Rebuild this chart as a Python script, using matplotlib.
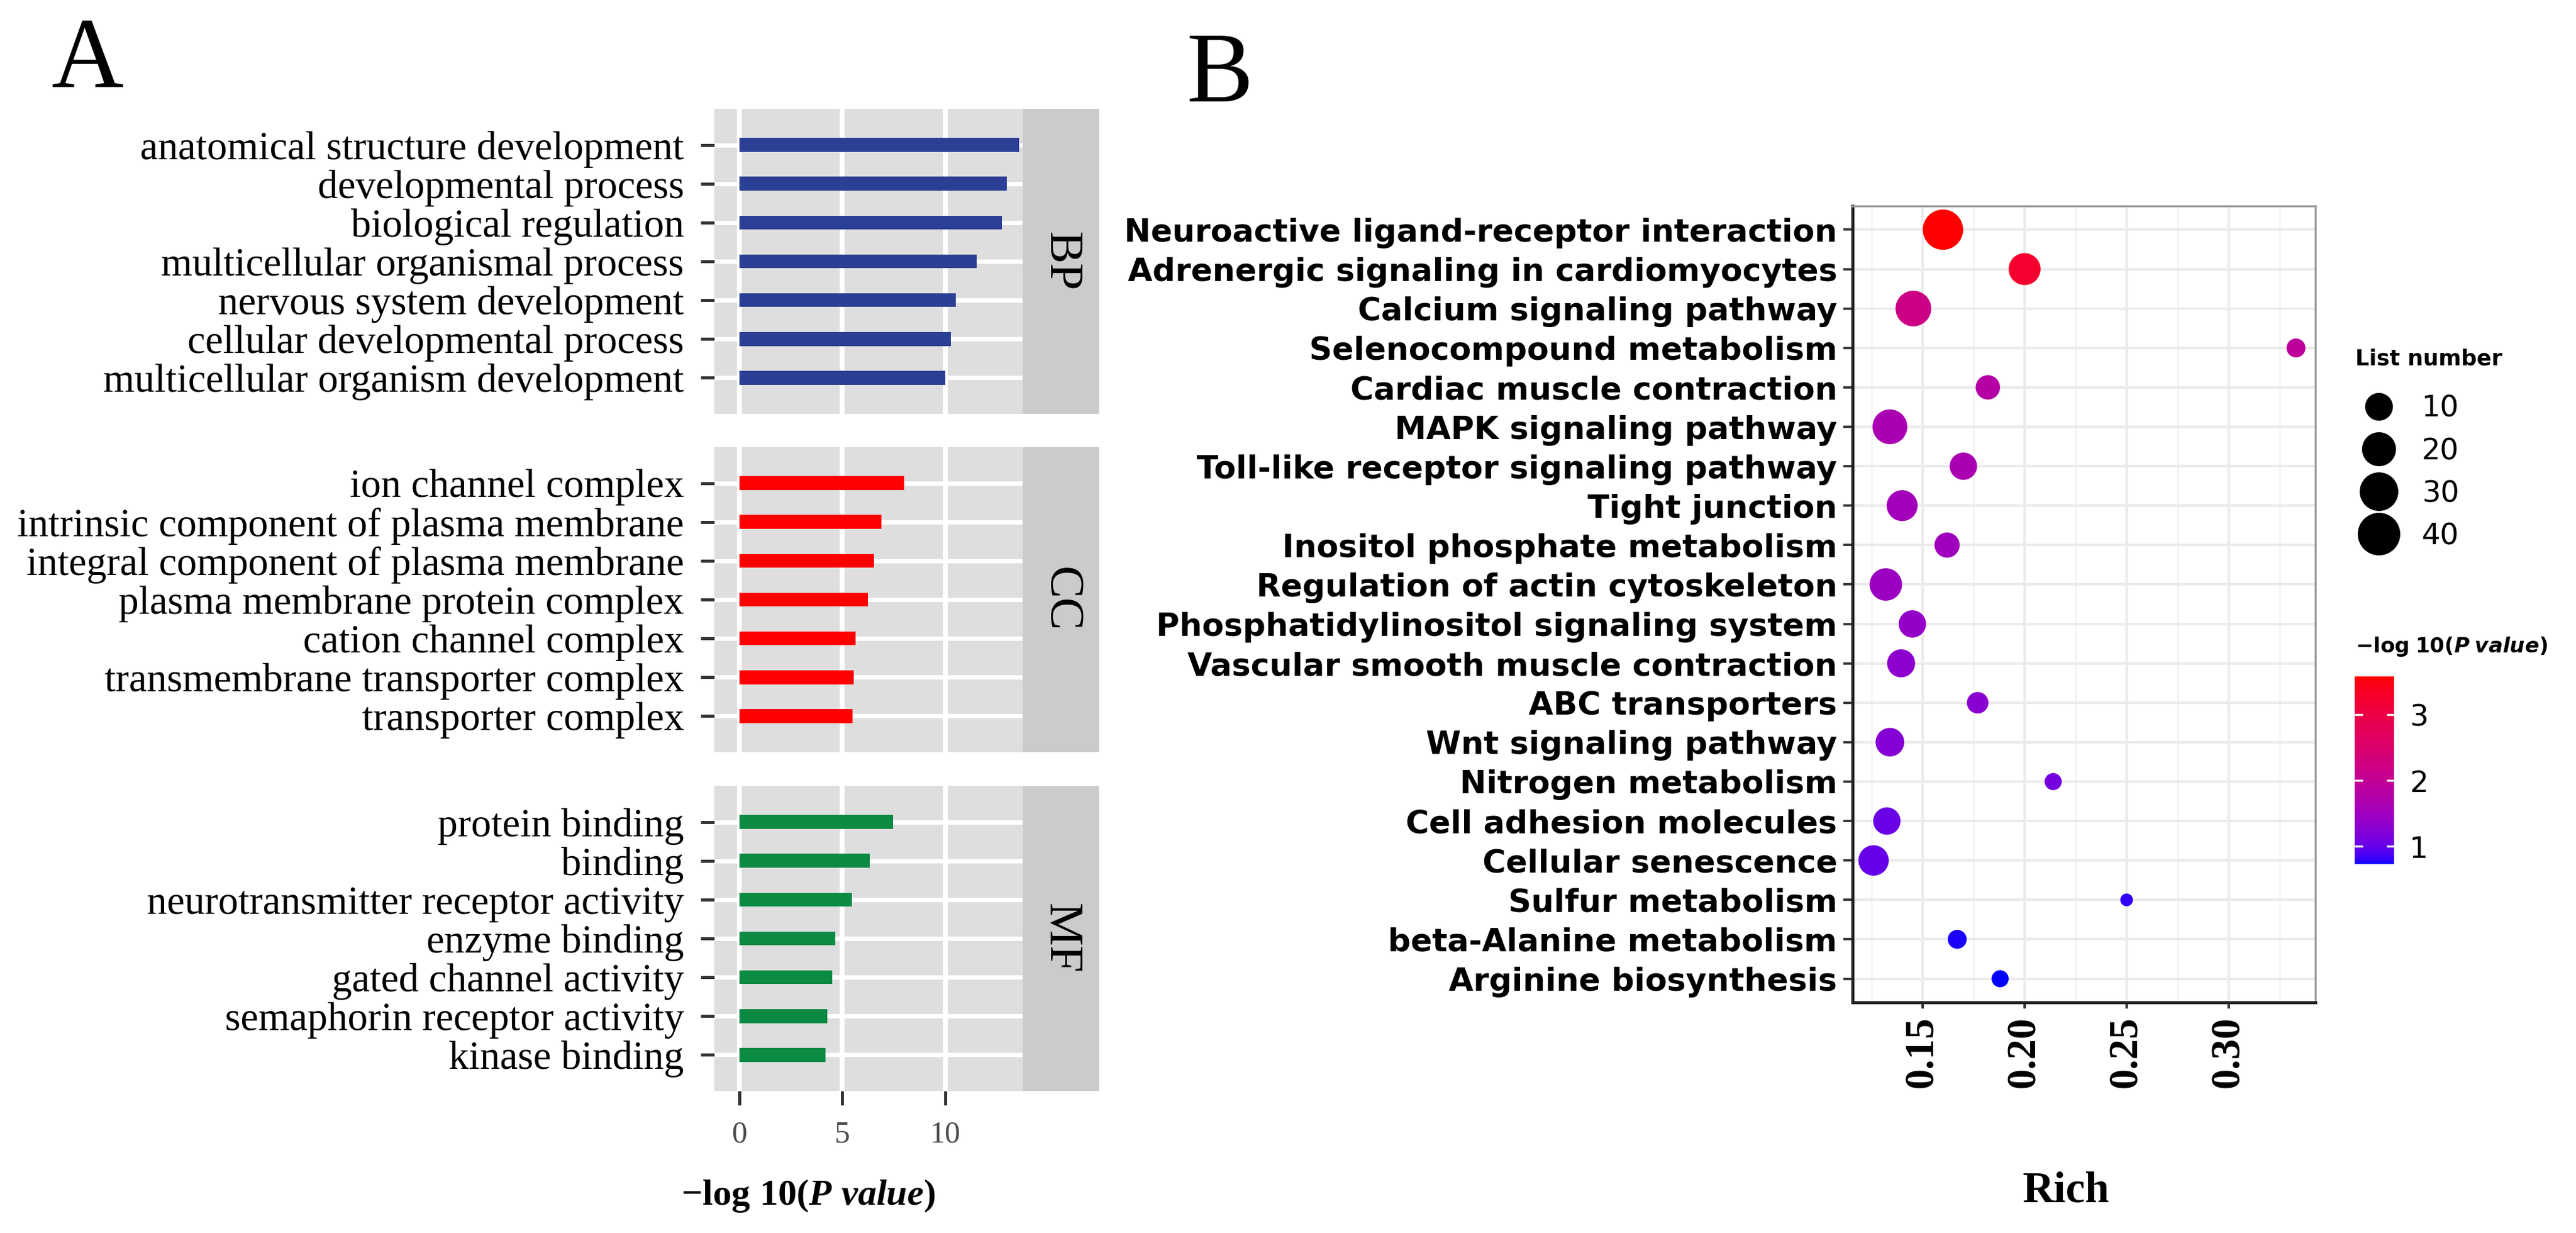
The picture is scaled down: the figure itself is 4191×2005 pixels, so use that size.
import numpy as np
import matplotlib
matplotlib.use("Agg")
import matplotlib.pyplot as plt
from matplotlib.colors import ListedColormap, Normalize
from matplotlib.cm import ScalarMappable
from matplotlib.lines import Line2D

plt.rcParams['mathtext.fontset'] = 'custom'
plt.rcParams['mathtext.rm'] = 'Liberation Serif:bold'
plt.rcParams['mathtext.it'] = 'Liberation Serif:bold:italic'
plt.rcParams['mathtext.bf'] = 'DejaVu Sans:bold'
plt.rcParams['mathtext.sf'] = 'DejaVu Sans:bold:italic'

# ---- panel A: GO enrichment, -log10(P value)
bp_terms = ["anatomical structure development", "developmental process",
            "biological regulation", "multicellular organismal process",
            "nervous system development", "cellular developmental process",
            "multicellular organism development"]
bp_vals = [13.6, 13.0, 12.76, 11.53, 10.52, 10.28, 10.0]

cc_terms = ["ion channel complex", "intrinsic component of plasma membrane",
            "integral component of plasma membrane", "plasma membrane protein complex",
            "cation channel complex", "transmembrane transporter complex",
            "transporter complex"]
cc_vals = [8.0, 6.9, 6.53, 6.25, 5.66, 5.55, 5.51]

mf_terms = ["protein binding", "binding", "neurotransmitter receptor activity",
            "enzyme binding", "gated channel activity", "semaphorin receptor activity",
            "kinase binding"]
mf_vals = [7.46, 6.32, 5.48, 4.67, 4.51, 4.28, 4.18]

go_groups = ["BP", "CC", "MF"]
go_colors = ["#2B3F94", "#FF0000", "#0A8A43"]

# ---- panel B: KEGG enrichment
kegg_terms = ["Neuroactive ligand-receptor interaction", "Adrenergic signaling in cardiomyocytes",
              "Calcium signaling pathway", "Selenocompound metabolism",
              "Cardiac muscle contraction", "MAPK signaling pathway",
              "Toll-like receptor signaling pathway", "Tight junction",
              "Inositol phosphate metabolism", "Regulation of actin cytoskeleton",
              "Phosphatidylinositol signaling system", "Vascular smooth muscle contraction",
              "ABC transporters", "Wnt signaling pathway", "Nitrogen metabolism",
              "Cell adhesion molecules", "Cellular senescence", "Sulfur metabolism",
              "beta-Alanine metabolism", "Arginine biosynthesis"]
kegg_rich = [0.160, 0.200, 0.1455, 0.333, 0.182, 0.134, 0.170, 0.140, 0.162, 0.132,
             0.145, 0.1395, 0.177, 0.134, 0.214, 0.1325, 0.126, 0.25, 0.167, 0.188]
kegg_count = [41, 21, 29, 4, 9, 27, 13, 19, 10, 22, 13, 14, 6, 15, 3, 13, 18, 2, 4, 3]
kegg_logp = [3.58, 3.25, 2.2, 1.95, 1.8, 1.65, 1.65, 1.55, 1.5, 1.45, 1.38, 1.32, 1.28,
             1.24, 1.1, 1.02, 1.0, 0.8, 0.76, 0.73]
size_breaks = [10, 20, 30, 40]
color_ticks = [1, 2, 3]

W, H, DPI = 4191, 2005, 300


def fx(px):
    return px / W


def fy(py):
    return 1 - py / H


def lab_ramp(n=256):
    # blue -> red interpolated in CIELAB, like ggplot's gradient
    lab_blue = np.array([32.30, 79.19, -107.86])
    lab_red = np.array([53.24, 80.09, 67.20])
    t = np.linspace(0, 1, n)[:, None]
    L, a, b = (lab_blue * (1 - t) + lab_red * t).T
    fyy = (L + 16) / 116
    fxx = fyy + a / 500
    fzz = fyy - b / 200

    def finv(f):
        return np.where(f ** 3 > 0.008856, f ** 3, (f - 16 / 116) / 7.787)
    xyz = np.stack([0.95047 * finv(fxx), finv(fyy), 1.08883 * finv(fzz)], 1)
    M = np.array([[3.2406, -1.5372, -0.4986],
                  [-0.9689, 1.8758, 0.0415],
                  [0.0557, -0.2040, 1.0570]])
    rgb = np.clip(xyz @ M.T, 0, 1)
    rgb = np.where(rgb <= 0.0031308, 12.92 * rgb, 1.055 * rgb ** (1 / 2.4) - 0.055)
    return ListedColormap(np.clip(rgb, 0, 1))


def dot_diam_pt(n):
    d_px = 20.6 + 7.2 * np.sqrt(np.maximum(np.asarray(n, float) - 2, 0))
    return d_px * 72 / DPI


fig = plt.figure(figsize=(W / DPI, H / DPI), dpi=DPI)

# ---------------- panel A
panel_tops = [177, 727, 1278]
panel_h = 496
serif = "Liberation Serif"
for k, (terms, vals) in enumerate([(bp_terms, bp_vals), (cc_terms, cc_vals), (mf_terms, mf_vals)]):
    top = panel_tops[k]
    ax = fig.add_axes([fx(1162), fy(top + panel_h), fx(1664) - fx(1162), panel_h / H])
    ax.set_facecolor("#DEDEDE")
    y = np.arange(len(terms))
    for xv in [0, 5, 10]:
        ax.axvline(xv, color="white", lw=1.9, zorder=1)
    for yv in y:
        ax.axhline(yv, color="white", lw=1.7, zorder=1)
    ax.barh(y, vals, height=0.36, color=go_colors[k], zorder=2)
    ax.set_xlim(-1.22, 13.77)
    ax.set_ylim(len(terms) - 1 + 0.93, -0.93)
    ax.set_yticks(y)
    ax.set_yticklabels(terms, family=serif, fontsize=15.7, color="black")
    ax.tick_params(axis="y", length=5.3, width=1.2, color="#333333", pad=6.5)
    ax.set_xticks([0, 5, 10])
    if k == 2:
        ax.set_xticklabels(["0", "5", "10"], family=serif, fontsize=12, color="#4D4D4D")
        ax.tick_params(axis="x", length=5.5, width=1.2, color="#333333", pad=6)
    else:
        ax.tick_params(axis="x", length=0, labelbottom=False)
    for s in ax.spines.values():
        s.set_visible(False)

    sx = fig.add_axes([fx(1664), fy(top + panel_h), fx(1788) - fx(1664), panel_h / H])
    sx.set_facecolor("#CBCBCB")
    sx.set_xticks([])
    sx.set_yticks([])
    for s in sx.spines.values():
        s.set_visible(False)
    sx.text(0.5, 0.5, go_groups[k], rotation=-90, ha="center", va="center",
            family=serif, fontsize=19, transform=sx.transAxes)

fig.text(fx(1315), fy(1945), r"$\mathrm{-log\ 10(}\mathit{P\ value}\mathrm{)}$",
         fontsize=14.5, ha="center", va="center")
fig.text(fx(83), fy(142), "A", family=serif, fontsize=39, ha="left", va="baseline")
fig.text(fx(1930), fy(165), "B", family=serif, fontsize=39, ha="left", va="baseline")

# ---------------- panel B
cmap = lab_ramp()
norm = Normalize(vmin=min(kegg_logp), vmax=max(kegg_logp))
bx = fig.add_axes([fx(3014), fy(1630), fx(3767) - fx(3014), 1295 / H])
yk = np.arange(len(kegg_terms))
bx.scatter(kegg_rich, yk, s=dot_diam_pt(kegg_count) ** 2, c=kegg_logp, cmap=cmap,
           norm=norm, edgecolors="none", zorder=3)
bx.set_xlim(0.1157, 0.3425)
bx.set_ylim(len(kegg_terms) - 1 + 0.6, -0.6)
bx.set_xticks([0.15, 0.20, 0.25, 0.30])
bx.set_xticks([0.125, 0.175, 0.225, 0.275, 0.325], minor=True)
bx.grid(which="major", color="#EBEBEB", lw=1.0, zorder=0)
bx.grid(which="minor", axis="x", color="#F2F2F2", lw=0.6, zorder=0)
bx.set_axisbelow(True)
bx.set_xticklabels(["0.15", "0.20", "0.25", "0.30"], rotation=90, family=serif,
                   fontweight="bold", fontsize=16)
bx.set_yticks(yk)
bx.set_yticklabels(kegg_terms, family="DejaVu Sans", fontweight="bold", fontsize=12.4)
bx.tick_params(axis="y", length=3.5, width=0.9, color="#333333", pad=2.5)
bx.tick_params(axis="x", which="major", length=2.5, width=1.0, color="#333333", pad=3)
bx.tick_params(axis="x", which="minor", length=0)
for side in ["top", "right"]:
    bx.spines[side].set_color("#9A9A9A")
    bx.spines[side].set_linewidth(0.8)
for side in ["left", "bottom"]:
    bx.spines[side].set_color("#222222")
    bx.spines[side].set_linewidth(1.2)

fig.text(fx(3362), fy(1937), "Rich", family=serif, fontweight="bold", fontsize=17,
         ha="center", va="center")

# size legend
fig.text(fx(3832), fy(583), "List number", family="DejaVu Sans", fontweight="bold",
         fontsize=8.5, ha="left", va="center")
handles = [Line2D([], [], ls="none", marker="o", color="black",
                  markersize=float(dot_diam_pt(v))) for v in size_breaks]
leg = fig.legend(handles, [str(v) for v in size_breaks], loc="upper left",
                 bbox_to_anchor=(fx(3832), fy(641)), frameon=False,
                 prop={"family": "DejaVu Sans", "size": 11.5}, borderpad=0,
                 handletextpad=0.65, labelspacing=0.46, borderaxespad=0, handlelength=1.6)

# colour bar
cax = fig.add_axes([fx(3831), fy(1405), fx(3895) - fx(3831), 305 / H])
cb = fig.colorbar(ScalarMappable(norm=norm, cmap=cmap), cax=cax, ticks=color_ticks)
cb.outline.set_visible(False)
cax.tick_params(axis="y", direction="in", color="white", length=3, width=0.8,
                left=True, right=True, labelsize=11.5, pad=6)
for lab in cax.get_yticklabels():
    lab.set_family("DejaVu Sans")
fig.text(fx(3832), fy(1051), r"$\mathbf{-log\ 10(}\mathsf{P\ value}\mathbf{)}$",
         fontsize=8.2, ha="left", va="center")

fig.savefig("out.png", dpi=DPI, facecolor="white")
